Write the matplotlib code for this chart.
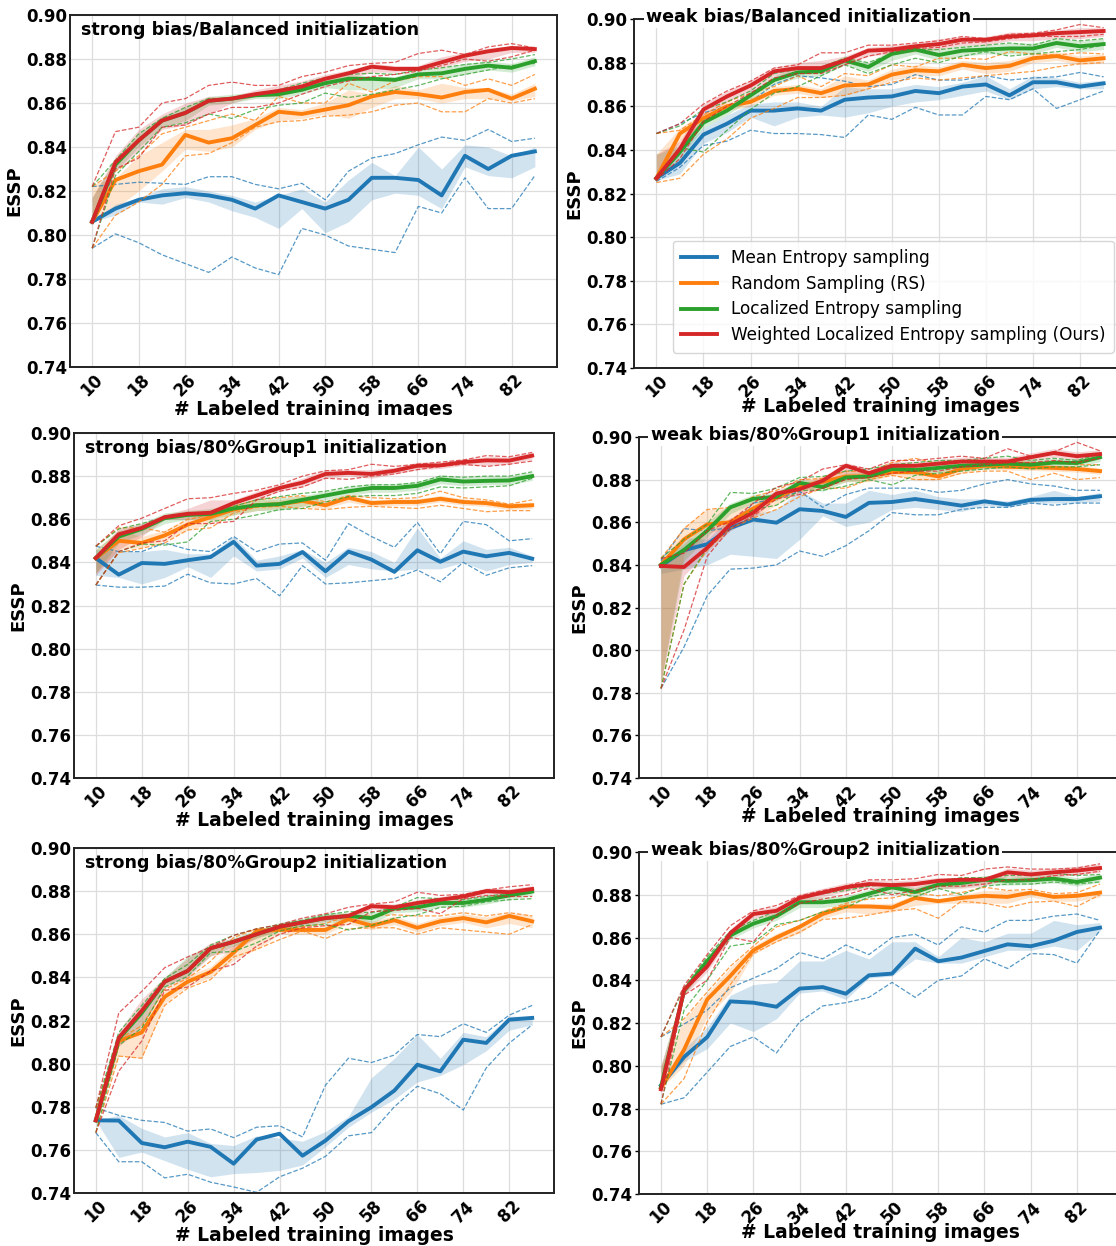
import matplotlib
matplotlib.use("Agg")
import matplotlib.pyplot as plt
from matplotlib.transforms import Bbox, TransformedBbox

plt.rcParams['font.family'] = ['DejaVu Sans']
plt.rcParams['font.weight'] = 'bold'

# x axis: number of labeled training images
n_images = [10, 14, 18, 22, 26, 30, 34, 38, 42, 46, 50, 54, 58, 62, 66, 70, 74, 78, 82, 86]
xticks = [10, 18, 26, 34, 42, 50, 58, 66, 74, 82]
yticks = [0.74, 0.76, 0.78, 0.80, 0.82, 0.84, 0.86, 0.88, 0.90]

methods = ["Mean Entropy sampling", "Random Sampling (RS)",
           "Localized Entropy sampling", "Weighted Localized Entropy sampling (Ours)"]
colors = ["#1f77b4", "#ff7f0e", "#2ca02c", "#d62728"]

# ---------- strong bias / Balanced ----------
tl_mean = [
    [0.806, 0.812, 0.816, 0.818, 0.819, 0.818, 0.816, 0.812, 0.818, 0.815, 0.812, 0.816, 0.826, 0.826, 0.825, 0.818, 0.836, 0.830, 0.836, 0.838],
    [0.806, 0.825, 0.829, 0.832, 0.8455, 0.842, 0.844, 0.850, 0.856, 0.855, 0.857, 0.859, 0.863, 0.865, 0.864, 0.8625, 0.865, 0.866, 0.862, 0.8665],
    [0.806, 0.832, 0.843, 0.852, 0.8555, 0.861, 0.862, 0.8635, 0.864, 0.866, 0.869, 0.871, 0.871, 0.8705, 0.873, 0.8735, 0.8755, 0.877, 0.876, 0.879],
    [0.806, 0.833, 0.843, 0.852, 0.8555, 0.861, 0.862, 0.864, 0.8655, 0.8675, 0.871, 0.8735, 0.8765, 0.8755, 0.8755, 0.8785, 0.8815, 0.8835, 0.885, 0.8845],
]
tl_lo = [
    [0.806, 0.809, 0.815, 0.814, 0.817, 0.815, 0.811, 0.808, 0.803, 0.812, 0.801, 0.806, 0.816, 0.819, 0.818, 0.812, 0.831, 0.827, 0.826, 0.831],
    [0.806, 0.812, 0.820, 0.829, 0.839, 0.838, 0.840, 0.848, 0.852, 0.853, 0.855, 0.853, 0.858, 0.862, 0.862, 0.860, 0.862, 0.862, 0.861, 0.863],
    [0.806, 0.829, 0.840, 0.849, 0.852, 0.859, 0.860, 0.862, 0.862, 0.864, 0.867, 0.866, 0.866, 0.867, 0.871, 0.871, 0.873, 0.875, 0.874, 0.877],
    [0.806, 0.829, 0.838, 0.848, 0.850, 0.855, 0.860, 0.863, 0.863, 0.866, 0.869, 0.871, 0.874, 0.874, 0.875, 0.876, 0.879, 0.880, 0.883, 0.883],
]
tl_hi = [
    [0.806, 0.814, 0.817, 0.821, 0.822, 0.820, 0.818, 0.815, 0.818, 0.821, 0.815, 0.825, 0.833, 0.827, 0.840, 0.830, 0.841, 0.840, 0.836, 0.840],
    [0.823, 0.826, 0.836, 0.842, 0.848, 0.848, 0.850, 0.853, 0.858, 0.857, 0.860, 0.866, 0.864, 0.868, 0.866, 0.869, 0.867, 0.867, 0.864, 0.869],
    [0.817, 0.835, 0.846, 0.854, 0.858, 0.863, 0.864, 0.865, 0.866, 0.868, 0.871, 0.873, 0.872, 0.872, 0.875, 0.876, 0.878, 0.879, 0.878, 0.881],
    [0.817, 0.836, 0.848, 0.855, 0.860, 0.863, 0.863, 0.866, 0.868, 0.870, 0.873, 0.875, 0.878, 0.877, 0.877, 0.881, 0.883, 0.885, 0.886, 0.886],
]
tl_dlo = [
    [0.794, 0.8005, 0.7965, 0.791, 0.787, 0.783, 0.790, 0.785, 0.782, 0.803, 0.800, 0.795, 0.7935, 0.792, 0.813, 0.810, 0.826, 0.812, 0.812, 0.827],
    [0.794, 0.809, 0.815, 0.823, 0.836, 0.837, 0.842, 0.849, 0.8515, 0.852, 0.854, 0.8545, 0.856, 0.859, 0.860, 0.856, 0.856, 0.862, 0.860, 0.862],
    [0.794, 0.827, 0.838, 0.849, 0.851, 0.855, 0.853, 0.857, 0.859, 0.860, 0.8645, 0.8625, 0.864, 0.866, 0.868, 0.871, 0.873, 0.875, 0.877, 0.878],
    [0.794, 0.830, 0.835, 0.849, 0.850, 0.855, 0.858, 0.858, 0.860, 0.864, 0.8675, 0.870, 0.872, 0.873, 0.8745, 0.877, 0.880, 0.879, 0.881, 0.884],
]
tl_dhi = [
    [0.822, 0.823, 0.824, 0.8235, 0.823, 0.8265, 0.8265, 0.823, 0.821, 0.8235, 0.816, 0.829, 0.835, 0.837, 0.841, 0.8445, 0.843, 0.848, 0.8425, 0.844],
    [0.822, 0.829, 0.836, 0.846, 0.849, 0.852, 0.855, 0.852, 0.863, 0.860, 0.860, 0.869, 0.865, 0.870, 0.872, 0.872, 0.868, 0.871, 0.868, 0.873],
    [0.822, 0.834, 0.846, 0.853, 0.858, 0.862, 0.862, 0.864, 0.866, 0.869, 0.8715, 0.873, 0.8735, 0.873, 0.875, 0.876, 0.8775, 0.8785, 0.880, 0.882],
    [0.822, 0.847, 0.849, 0.860, 0.862, 0.868, 0.8695, 0.868, 0.868, 0.872, 0.874, 0.877, 0.878, 0.8785, 0.8825, 0.884, 0.882, 0.8855, 0.887, 0.885],
]

# ---------- weak bias / Balanced ----------
tr_mean = [
    [0.827, 0.834, 0.847, 0.852, 0.858, 0.858, 0.859, 0.858, 0.863, 0.864, 0.8645, 0.867, 0.866, 0.869, 0.870, 0.865, 0.871, 0.871, 0.869, 0.8705],
    [0.827, 0.8475, 0.8545, 0.860, 0.862, 0.867, 0.868, 0.866, 0.8695, 0.870, 0.8745, 0.8765, 0.876, 0.879, 0.8775, 0.8785, 0.882, 0.883, 0.881, 0.882],
    [0.827, 0.839, 0.8525, 0.858, 0.865, 0.872, 0.8755, 0.876, 0.881, 0.878, 0.884, 0.886, 0.8835, 0.8855, 0.886, 0.8865, 0.8865, 0.889, 0.8875, 0.8885],
    [0.827, 0.8405, 0.8585, 0.8645, 0.8695, 0.876, 0.8775, 0.8775, 0.881, 0.8855, 0.886, 0.8875, 0.8885, 0.8905, 0.8905, 0.892, 0.8925, 0.8935, 0.894, 0.8945],
]
tr_lo = [
    [0.826, 0.829, 0.843, 0.848, 0.855, 0.851, 0.855, 0.856, 0.855, 0.857, 0.860, 0.862, 0.863, 0.865, 0.867, 0.863, 0.868, 0.869, 0.868, 0.868],
    [0.826, 0.844, 0.852, 0.858, 0.860, 0.865, 0.866, 0.864, 0.865, 0.868, 0.872, 0.874, 0.874, 0.877, 0.875, 0.876, 0.880, 0.881, 0.879, 0.880],
    [0.826, 0.836, 0.850, 0.856, 0.863, 0.870, 0.873, 0.874, 0.879, 0.876, 0.881, 0.884, 0.881, 0.883, 0.884, 0.884, 0.884, 0.887, 0.885, 0.886],
    [0.827, 0.838, 0.856, 0.862, 0.867, 0.874, 0.875, 0.876, 0.879, 0.883, 0.884, 0.885, 0.886, 0.888, 0.888, 0.890, 0.890, 0.891, 0.891, 0.892],
]
tr_hi = [
    [0.828, 0.840, 0.850, 0.856, 0.861, 0.862, 0.862, 0.860, 0.869, 0.868, 0.868, 0.870, 0.869, 0.871, 0.874, 0.868, 0.874, 0.873, 0.871, 0.872],
    [0.838, 0.850, 0.857, 0.862, 0.864, 0.869, 0.870, 0.868, 0.874, 0.872, 0.877, 0.879, 0.878, 0.881, 0.880, 0.881, 0.884, 0.885, 0.883, 0.884],
    [0.838, 0.842, 0.855, 0.860, 0.867, 0.874, 0.878, 0.878, 0.883, 0.880, 0.886, 0.888, 0.886, 0.888, 0.888, 0.889, 0.889, 0.891, 0.890, 0.891],
    [0.838, 0.844, 0.861, 0.867, 0.872, 0.878, 0.880, 0.881, 0.883, 0.887, 0.888, 0.889, 0.891, 0.892, 0.892, 0.894, 0.894, 0.895, 0.896, 0.896],
]
tr_dlo = [
    [0.8255, 0.832, 0.842, 0.844, 0.849, 0.8475, 0.8475, 0.847, 0.8457, 0.856, 0.854, 0.8595, 0.856, 0.856, 0.8645, 0.863, 0.868, 0.859, 0.863, 0.867],
    [0.825, 0.827, 0.838, 0.845, 0.8545, 0.859, 0.864, 0.864, 0.865, 0.868, 0.871, 0.873, 0.872, 0.873, 0.874, 0.875, 0.876, 0.878, 0.8795, 0.880],
    [0.826, 0.841, 0.839, 0.849, 0.8585, 0.866, 0.869, 0.874, 0.879, 0.875, 0.879, 0.882, 0.880, 0.883, 0.885, 0.883, 0.884, 0.885, 0.886, 0.888],
    [0.826, 0.836, 0.853, 0.860, 0.866, 0.873, 0.875, 0.875, 0.879, 0.883, 0.885, 0.8865, 0.887, 0.889, 0.8895, 0.891, 0.892, 0.892, 0.892, 0.893],
]
tr_dhi = [
    [0.8475, 0.852, 0.857, 0.860, 0.862, 0.870, 0.874, 0.873, 0.8715, 0.869, 0.870, 0.8745, 0.872, 0.872, 0.874, 0.872, 0.873, 0.8735, 0.8755, 0.8735],
    [0.8475, 0.849, 0.856, 0.862, 0.866, 0.869, 0.874, 0.869, 0.875, 0.874, 0.879, 0.878, 0.882, 0.882, 0.8815, 0.885, 0.884, 0.8835, 0.8845, 0.884],
    [0.8475, 0.851, 0.8585, 0.862, 0.867, 0.875, 0.877, 0.878, 0.882, 0.880, 0.884, 0.886, 0.886, 0.887, 0.888, 0.889, 0.888, 0.891, 0.890, 0.891],
    [0.8475, 0.852, 0.861, 0.867, 0.8715, 0.8775, 0.879, 0.8845, 0.8845, 0.888, 0.888, 0.889, 0.890, 0.892, 0.891, 0.893, 0.8935, 0.895, 0.8975, 0.896],
]

# ---------- strong bias / 80%Group1 ----------
ml_mean = [
    [0.842, 0.8343, 0.8397, 0.8393, 0.841, 0.8425, 0.8495, 0.8385, 0.8393, 0.8448, 0.8359, 0.845, 0.8413, 0.8356, 0.8456, 0.8403, 0.845, 0.8428, 0.8444, 0.8417],
    [0.842, 0.850, 0.849, 0.8525, 0.8575, 0.861, 0.8645, 0.8665, 0.867, 0.8685, 0.8665, 0.870, 0.8675, 0.868, 0.868, 0.8695, 0.868, 0.8675, 0.866, 0.8665],
    [0.842, 0.852, 0.8555, 0.8605, 0.862, 0.8625, 0.865, 0.8665, 0.867, 0.869, 0.871, 0.873, 0.8745, 0.8745, 0.8755, 0.8785, 0.8775, 0.8778, 0.878, 0.880],
    [0.842, 0.853, 0.856, 0.861, 0.8625, 0.863, 0.8675, 0.871, 0.8745, 0.877, 0.881, 0.8815, 0.881, 0.8825, 0.8848, 0.885, 0.8865, 0.8873, 0.8872, 0.8895],
]
ml_lo = [
    [0.834, 0.833, 0.830, 0.833, 0.838, 0.833, 0.843, 0.836, 0.837, 0.842, 0.833, 0.839, 0.837, 0.836, 0.837, 0.837, 0.840, 0.836, 0.839, 0.840],
    [0.835, 0.846, 0.847, 0.850, 0.855, 0.858, 0.862, 0.864, 0.865, 0.866, 0.865, 0.868, 0.866, 0.8665, 0.8665, 0.868, 0.8665, 0.866, 0.8645, 0.865],
    [0.835, 0.849, 0.853, 0.858, 0.860, 0.860, 0.862, 0.864, 0.864, 0.866, 0.869, 0.871, 0.8725, 0.8725, 0.8735, 0.8765, 0.8755, 0.876, 0.876, 0.878],
    [0.834, 0.846, 0.852, 0.860, 0.860, 0.861, 0.866, 0.869, 0.873, 0.875, 0.879, 0.880, 0.879, 0.881, 0.883, 0.8835, 0.885, 0.885, 0.8855, 0.888],
]
ml_hi = [
    [0.846, 0.845, 0.845, 0.846, 0.844, 0.844, 0.852, 0.841, 0.843, 0.846, 0.840, 0.847, 0.845, 0.840, 0.856, 0.842, 0.850, 0.846, 0.847, 0.843],
    [0.846, 0.855, 0.852, 0.855, 0.860, 0.863, 0.866, 0.869, 0.869, 0.871, 0.868, 0.871, 0.869, 0.8695, 0.8695, 0.871, 0.8695, 0.869, 0.8675, 0.868],
    [0.846, 0.855, 0.858, 0.863, 0.864, 0.865, 0.867, 0.869, 0.870, 0.871, 0.873, 0.875, 0.8765, 0.8765, 0.8775, 0.8805, 0.8795, 0.880, 0.880, 0.882],
    [0.843, 0.856, 0.858, 0.862, 0.865, 0.869, 0.869, 0.873, 0.876, 0.879, 0.883, 0.883, 0.883, 0.884, 0.8865, 0.8865, 0.888, 0.889, 0.889, 0.891],
]
ml_dlo = [
    [0.8295, 0.8285, 0.8285, 0.829, 0.8345, 0.8305, 0.830, 0.8325, 0.8245, 0.8385, 0.830, 0.8305, 0.8315, 0.8325, 0.8365, 0.831, 0.840, 0.834, 0.8375, 0.8385],
    [0.8295, 0.8445, 0.8465, 0.849, 0.855, 0.856, 0.863, 0.8655, 0.866, 0.865, 0.8645, 0.8655, 0.866, 0.8655, 0.865, 0.8665, 0.865, 0.8635, 0.864, 0.864],
    [0.8295, 0.845, 0.8485, 0.848, 0.8495, 0.859, 0.860, 0.862, 0.8645, 0.865, 0.868, 0.8705, 0.871, 0.871, 0.872, 0.875, 0.8745, 0.875, 0.8755, 0.879],
    [0.8295, 0.845, 0.849, 0.850, 0.858, 0.858, 0.859, 0.869, 0.873, 0.875, 0.879, 0.8785, 0.880, 0.881, 0.883, 0.8845, 0.8855, 0.8845, 0.8855, 0.887],
]
ml_dhi = [
    [0.8475, 0.845, 0.845, 0.849, 0.846, 0.845, 0.852, 0.845, 0.8485, 0.849, 0.841, 0.858, 0.852, 0.847, 0.8585, 0.844, 0.859, 0.8575, 0.850, 0.851],
    [0.8475, 0.856, 0.856, 0.854, 0.860, 0.862, 0.866, 0.869, 0.870, 0.871, 0.868, 0.871, 0.870, 0.8695, 0.870, 0.873, 0.870, 0.869, 0.867, 0.869],
    [0.8475, 0.8555, 0.858, 0.861, 0.8625, 0.8635, 0.866, 0.869, 0.8705, 0.872, 0.873, 0.875, 0.876, 0.876, 0.877, 0.880, 0.8795, 0.880, 0.880, 0.882],
    [0.8475, 0.857, 0.8605, 0.865, 0.8695, 0.870, 0.872, 0.8735, 0.876, 0.880, 0.8825, 0.883, 0.8855, 0.8845, 0.8855, 0.8865, 0.8875, 0.8895, 0.889, 0.891],
]

# ---------- weak bias / 80%Group1 ----------
mr_mean = [
    [0.8395, 0.8469, 0.8497, 0.8573, 0.8613, 0.8598, 0.8661, 0.8653, 0.8625, 0.8691, 0.8695, 0.8709, 0.8694, 0.8678, 0.8698, 0.8683, 0.8705, 0.8709, 0.8709, 0.8722],
    [0.840, 0.852, 0.859, 0.860, 0.8665, 0.8715, 0.8765, 0.879, 0.8815, 0.8815, 0.8835, 0.8835, 0.8815, 0.885, 0.8865, 0.886, 0.8858, 0.8855, 0.885, 0.884],
    [0.840, 0.847, 0.856, 0.867, 0.871, 0.872, 0.8785, 0.8765, 0.881, 0.8815, 0.885, 0.8845, 0.8855, 0.8865, 0.887, 0.8875, 0.887, 0.888, 0.8878, 0.8905],
    [0.8395, 0.839, 0.848, 0.859, 0.8645, 0.8735, 0.8755, 0.8795, 0.8865, 0.883, 0.8865, 0.8865, 0.8875, 0.8885, 0.8885, 0.8885, 0.8905, 0.8925, 0.891, 0.892],
]
mr_lo = [
    [0.836, 0.838, 0.840, 0.845, 0.844, 0.843, 0.852, 0.863, 0.858, 0.860, 0.866, 0.867, 0.866, 0.865, 0.868, 0.867, 0.869, 0.869, 0.869, 0.870],
    [0.785, 0.845, 0.855, 0.857, 0.862, 0.868, 0.874, 0.876, 0.879, 0.879, 0.882, 0.880, 0.880, 0.883, 0.885, 0.8845, 0.8843, 0.884, 0.8835, 0.8825],
    [0.785, 0.842, 0.853, 0.864, 0.869, 0.870, 0.8765, 0.8745, 0.879, 0.8795, 0.883, 0.8825, 0.8835, 0.8845, 0.885, 0.8855, 0.885, 0.886, 0.8858, 0.8885],
    [0.785, 0.835, 0.846, 0.856, 0.862, 0.8715, 0.8735, 0.8775, 0.883, 0.881, 0.8845, 0.8845, 0.8855, 0.8865, 0.8865, 0.8865, 0.8885, 0.8905, 0.889, 0.890],
]
mr_hi = [
    [0.841, 0.853, 0.852, 0.862, 0.864, 0.866, 0.875, 0.869, 0.869, 0.875, 0.873, 0.875, 0.872, 0.871, 0.871, 0.870, 0.872, 0.875, 0.872, 0.874],
    [0.843, 0.858, 0.866, 0.867, 0.870, 0.874, 0.879, 0.882, 0.884, 0.884, 0.886, 0.887, 0.884, 0.887, 0.888, 0.8875, 0.8873, 0.887, 0.8865, 0.8855],
    [0.843, 0.850, 0.860, 0.869, 0.873, 0.874, 0.8805, 0.8785, 0.883, 0.8835, 0.887, 0.8865, 0.8875, 0.8885, 0.889, 0.8895, 0.889, 0.890, 0.8898, 0.8925],
    [0.843, 0.846, 0.855, 0.862, 0.868, 0.8755, 0.8775, 0.8815, 0.888, 0.885, 0.8885, 0.8885, 0.8895, 0.8905, 0.8905, 0.8905, 0.8925, 0.8945, 0.893, 0.894],
]
mr_dlo = [
    [0.782, 0.8015, 0.8255, 0.838, 0.8385, 0.840, 0.8465, 0.844, 0.849, 0.856, 0.8645, 0.8635, 0.8635, 0.866, 0.867, 0.867, 0.869, 0.868, 0.869, 0.869],
    [0.782, 0.831, 0.847, 0.857, 0.862, 0.866, 0.872, 0.876, 0.876, 0.880, 0.882, 0.880, 0.880, 0.883, 0.884, 0.884, 0.880, 0.883, 0.880, 0.881],
    [0.782, 0.831, 0.848, 0.859, 0.866, 0.868, 0.875, 0.875, 0.877, 0.880, 0.8775, 0.882, 0.883, 0.884, 0.885, 0.886, 0.885, 0.886, 0.886, 0.887],
    [0.782, 0.8095, 0.844, 0.857, 0.863, 0.871, 0.873, 0.876, 0.880, 0.881, 0.883, 0.884, 0.884, 0.886, 0.887, 0.888, 0.888, 0.889, 0.888, 0.890],
]
mr_dhi = [
    [0.842, 0.857, 0.856, 0.8575, 0.869, 0.871, 0.8745, 0.867, 0.873, 0.876, 0.876, 0.876, 0.874, 0.875, 0.878, 0.880, 0.878, 0.877, 0.875, 0.875],
    [0.843, 0.857, 0.866, 0.867, 0.872, 0.875, 0.880, 0.8805, 0.884, 0.8835, 0.888, 0.890, 0.8875, 0.888, 0.888, 0.8885, 0.888, 0.888, 0.887, 0.887],
    [0.843, 0.852, 0.859, 0.874, 0.8735, 0.876, 0.881, 0.8815, 0.884, 0.885, 0.887, 0.888, 0.889, 0.889, 0.890, 0.891, 0.889, 0.890, 0.889, 0.892],
    [0.843, 0.8455, 0.856, 0.8605, 0.869, 0.8765, 0.879, 0.885, 0.887, 0.885, 0.889, 0.889, 0.890, 0.891, 0.890, 0.8945, 0.891, 0.893, 0.8975, 0.8935],
]

# ---------- strong bias / 80%Group2 ----------
bl_mean = [
    [0.7737, 0.7736, 0.7632, 0.7612, 0.7638, 0.7614, 0.7536, 0.7648, 0.7675, 0.7573, 0.7643, 0.7733, 0.7798, 0.7875, 0.7995, 0.7964, 0.8111, 0.8096, 0.8204, 0.8212],
    [0.7737, 0.8105, 0.8145, 0.831, 0.838, 0.8425, 0.8515, 0.8615, 0.862, 0.862, 0.862, 0.867, 0.864, 0.8665, 0.863, 0.866, 0.8675, 0.8655, 0.8685, 0.866],
    [0.7737, 0.8115, 0.8235, 0.838, 0.843, 0.8535, 0.8565, 0.860, 0.8635, 0.8655, 0.8675, 0.8685, 0.8675, 0.872, 0.8725, 0.8745, 0.8745, 0.876, 0.878, 0.8798],
    [0.7737, 0.812, 0.8245, 0.838, 0.843, 0.8535, 0.8565, 0.860, 0.8635, 0.8655, 0.8675, 0.8685, 0.873, 0.8725, 0.8745, 0.876, 0.8775, 0.880, 0.8795, 0.881],
]
bl_lo = [
    [0.7737, 0.7565, 0.759, 0.755, 0.751, 0.7475, 0.749, 0.7495, 0.7505, 0.753, 0.7615, 0.7705, 0.7775, 0.7835, 0.7915, 0.7945, 0.7995, 0.806, 0.8155, 0.818],
    [0.7737, 0.8035, 0.8025, 0.828, 0.836, 0.840, 0.848, 0.853, 0.860, 0.860, 0.860, 0.865, 0.862, 0.8645, 0.861, 0.864, 0.8655, 0.863, 0.865, 0.863],
    [0.7737, 0.810, 0.818, 0.836, 0.841, 0.850, 0.8545, 0.858, 0.8615, 0.8635, 0.865, 0.866, 0.865, 0.870, 0.8705, 0.8725, 0.8725, 0.874, 0.876, 0.878],
    [0.7737, 0.808, 0.817, 0.835, 0.840, 0.850, 0.852, 0.8585, 0.862, 0.864, 0.866, 0.867, 0.8715, 0.871, 0.873, 0.8745, 0.876, 0.8785, 0.878, 0.8795],
]
bl_hi = [
    [0.7737, 0.776, 0.770, 0.766, 0.768, 0.763, 0.762, 0.7665, 0.7655, 0.764, 0.7685, 0.7755, 0.7935, 0.8025, 0.8135, 0.8025, 0.8145, 0.8125, 0.822, 0.822],
    [0.780, 0.8115, 0.8175, 0.834, 0.841, 0.845, 0.855, 0.862, 0.864, 0.864, 0.864, 0.869, 0.866, 0.8685, 0.865, 0.868, 0.8695, 0.868, 0.870, 0.869],
    [0.780, 0.8135, 0.827, 0.840, 0.850, 0.855, 0.8585, 0.862, 0.8655, 0.8675, 0.870, 0.870, 0.870, 0.874, 0.8745, 0.8765, 0.8765, 0.878, 0.880, 0.8815],
    [0.780, 0.815, 0.830, 0.840, 0.849, 0.856, 0.858, 0.8615, 0.865, 0.867, 0.869, 0.870, 0.8745, 0.874, 0.876, 0.8775, 0.879, 0.8815, 0.881, 0.8825],
]
bl_dlo = [
    [0.768, 0.7545, 0.7545, 0.747, 0.7487, 0.745, 0.7428, 0.7403, 0.7475, 0.7515, 0.757, 0.7665, 0.768, 0.780, 0.7895, 0.786, 0.7785, 0.798, 0.8095, 0.818],
    [0.768, 0.8035, 0.8025, 0.827, 0.835, 0.839, 0.8495, 0.853, 0.8575, 0.8615, 0.858, 0.8625, 0.863, 0.863, 0.860, 0.863, 0.862, 0.861, 0.860, 0.8645],
    [0.768, 0.8085, 0.8165, 0.8355, 0.8405, 0.8515, 0.852, 0.856, 0.8615, 0.864, 0.8645, 0.862, 0.864, 0.8675, 0.869, 0.8725, 0.873, 0.875, 0.876, 0.8765],
    [0.768, 0.7965, 0.8105, 0.834, 0.8355, 0.843, 0.846, 0.8545, 0.860, 0.863, 0.864, 0.8645, 0.8705, 0.871, 0.872, 0.8695, 0.8765, 0.878, 0.8775, 0.8775],
]
bl_dhi = [
    [0.7795, 0.776, 0.7737, 0.7727, 0.7687, 0.7697, 0.7657, 0.7705, 0.7712, 0.766, 0.790, 0.8025, 0.8005, 0.804, 0.8135, 0.8125, 0.8185, 0.8145, 0.8225, 0.827],
    [0.7795, 0.8115, 0.8175, 0.8345, 0.8395, 0.8475, 0.8585, 0.8625, 0.8625, 0.8635, 0.865, 0.8685, 0.8685, 0.869, 0.8685, 0.8685, 0.870, 0.8685, 0.870, 0.8685],
    [0.7795, 0.8145, 0.827, 0.8395, 0.846, 0.855, 0.8595, 0.8625, 0.8645, 0.8665, 0.869, 0.8705, 0.870, 0.8725, 0.877, 0.8765, 0.876, 0.8775, 0.879, 0.881],
    [0.7795, 0.8235, 0.8335, 0.8445, 0.8495, 0.854, 0.8595, 0.8625, 0.8645, 0.8675, 0.8695, 0.8725, 0.874, 0.875, 0.8795, 0.878, 0.8785, 0.8805, 0.882, 0.883],
]

# ---------- weak bias / 80%Group2 ----------
br_mean = [
    [0.7908, 0.8041, 0.8134, 0.8301, 0.8295, 0.8276, 0.8361, 0.8368, 0.8337, 0.8423, 0.8431, 0.8548, 0.8489, 0.8506, 0.8537, 0.8568, 0.8559, 0.8585, 0.8626, 0.8646],
    [0.7895, 0.8075, 0.831, 0.842, 0.854, 0.860, 0.865, 0.871, 0.8745, 0.8745, 0.874, 0.8785, 0.877, 0.8785, 0.8795, 0.879, 0.881, 0.879, 0.8795, 0.881],
    [0.790, 0.835, 0.849, 0.861, 0.8665, 0.870, 0.8765, 0.8765, 0.8775, 0.8805, 0.8835, 0.8813, 0.8847, 0.8855, 0.887, 0.8865, 0.8868, 0.8875, 0.886, 0.888],
    [0.789, 0.8355, 0.8465, 0.862, 0.871, 0.8725, 0.8785, 0.881, 0.8835, 0.885, 0.8845, 0.885, 0.8865, 0.887, 0.887, 0.8905, 0.8895, 0.8905, 0.8913, 0.8925],
]
br_lo = [
    [0.790, 0.802, 0.808, 0.820, 0.816, 0.822, 0.834, 0.835, 0.831, 0.841, 0.842, 0.850, 0.848, 0.848, 0.851, 0.854, 0.854, 0.856, 0.854, 0.863],
    [0.7895, 0.800, 0.823, 0.834, 0.852, 0.858, 0.862, 0.869, 0.872, 0.871, 0.872, 0.875, 0.876, 0.876, 0.876, 0.876, 0.879, 0.877, 0.877, 0.879],
    [0.790, 0.833, 0.847, 0.859, 0.8645, 0.868, 0.874, 0.874, 0.8755, 0.8785, 0.8815, 0.8793, 0.8827, 0.8835, 0.885, 0.8845, 0.8848, 0.8855, 0.884, 0.886],
    [0.789, 0.833, 0.844, 0.860, 0.869, 0.8705, 0.8765, 0.879, 0.8815, 0.883, 0.8825, 0.883, 0.883, 0.883, 0.884, 0.8885, 0.8875, 0.8885, 0.8893, 0.8905],
]
br_hi = [
    [0.792, 0.808, 0.818, 0.833, 0.838, 0.839, 0.849, 0.849, 0.854, 0.850, 0.858, 0.858, 0.851, 0.860, 0.858, 0.862, 0.862, 0.868, 0.866, 0.867],
    [0.800, 0.822, 0.834, 0.846, 0.856, 0.862, 0.866, 0.873, 0.876, 0.876, 0.876, 0.880, 0.878, 0.880, 0.882, 0.882, 0.882, 0.880, 0.881, 0.882],
    [0.800, 0.837, 0.851, 0.863, 0.8685, 0.872, 0.879, 0.879, 0.8795, 0.8825, 0.8855, 0.8833, 0.8867, 0.8875, 0.889, 0.8885, 0.8888, 0.8895, 0.888, 0.890],
    [0.800, 0.837, 0.850, 0.864, 0.873, 0.8745, 0.8805, 0.883, 0.8855, 0.887, 0.8865, 0.887, 0.888, 0.888, 0.888, 0.8925, 0.8915, 0.8925, 0.8933, 0.8945],
]
br_dlo = [
    [0.782, 0.785, 0.797, 0.809, 0.8135, 0.806, 0.8205, 0.828, 0.8295, 0.832, 0.839, 0.832, 0.840, 0.842, 0.850, 0.8455, 0.8525, 0.852, 0.848, 0.8635],
    [0.782, 0.794, 0.8205, 0.838, 0.8525, 0.858, 0.8625, 0.8685, 0.869, 0.8705, 0.8725, 0.8735, 0.869, 0.877, 0.876, 0.874, 0.8765, 0.877, 0.8745, 0.880],
    [0.782, 0.826, 0.840, 0.856, 0.8575, 0.866, 0.868, 0.872, 0.874, 0.879, 0.881, 0.879, 0.883, 0.880, 0.884, 0.885, 0.885, 0.886, 0.885, 0.886],
    [0.782, 0.833, 0.840, 0.860, 0.858, 0.8705, 0.876, 0.878, 0.880, 0.883, 0.880, 0.882, 0.884, 0.884, 0.885, 0.887, 0.887, 0.889, 0.8895, 0.891],
]
br_dhi = [
    [0.8135, 0.8195, 0.826, 0.8365, 0.841, 0.8455, 0.853, 0.850, 0.8565, 0.852, 0.860, 0.8615, 0.8565, 0.865, 0.8625, 0.868, 0.868, 0.870, 0.871, 0.868],
    [0.8135, 0.822, 0.8345, 0.8465, 0.856, 0.865, 0.868, 0.872, 0.876, 0.878, 0.8785, 0.881, 0.8795, 0.881, 0.8835, 0.882, 0.8825, 0.8805, 0.881, 0.885],
    [0.8135, 0.8365, 0.851, 0.863, 0.868, 0.8725, 0.879, 0.8805, 0.882, 0.884, 0.885, 0.885, 0.8865, 0.888, 0.888, 0.889, 0.889, 0.890, 0.889, 0.8895],
    [0.8135, 0.8375, 0.852, 0.8655, 0.8725, 0.875, 0.8795, 0.882, 0.884, 0.887, 0.887, 0.8875, 0.8895, 0.889, 0.892, 0.893, 0.892, 0.892, 0.8925, 0.8945],
]

W, H = 1116, 1246
fig = plt.figure(figsize=(W / 100, H / 100), dpi=100)


def px_box(left, top, right, bottom):
    return [left / W, 1 - bottom / H, (right - left) / W, (bottom - top) / H]


def draw_panel(box, title, mean, lo, hi, dlo, dhi, right_col, clip_xlabel=False):
    ax = fig.add_axes(px_box(*box))
    for i in range(4):
        c = colors[i]
        ax.fill_between(n_images, lo[i], hi[i], color=c, alpha=0.2, lw=0)
        ax.plot(n_images, dlo[i], '--', color=c, lw=0.9, alpha=0.75)
        ax.plot(n_images, dhi[i], '--', color=c, lw=0.9, alpha=0.75)
        ax.plot(n_images, mean[i], '-', color=c, lw=2.8, label=methods[i])
    ax.set_ylim(0.74, 0.90)
    ax.set_xticks(xticks)
    ax.set_yticks(yticks)
    ax.set_yticklabels(["%.2f" % v for v in yticks])
    ax.grid(True, color='#dddddd', lw=0.9)
    ax.set_axisbelow(True)
    for s in ax.spines.values():
        s.set_linewidth(1.4)
        s.set_color('#222222')
    ax.tick_params(axis='y', labelsize=12, length=3 if right_col else 0, width=1, pad=2)
    ax.tick_params(axis='x', labelsize=12, length=0, pad=3)
    plt.setp(ax.get_xticklabels(), rotation=45, ha='center')
    xl = ax.set_xlabel("# Labeled training images", fontsize=13.5, fontweight='bold',
                       labelpad=-3 if right_col else 0)
    ax.set_ylabel("ESSP", fontsize=13, fontweight='bold', labelpad=2)
    if clip_xlabel:
        # the top row labels are cut off by the next row of panels
        clip = TransformedBbox(Bbox([[0, 1 - 416 / H], [1, 1]]), fig.transFigure)
        xl.set_clip_box(clip)
        xl.set_clip_on(True)
    if right_col:
        ax.text(0.024, 1.006, title, transform=ax.transAxes, fontsize=12.6, fontweight='bold',
                va='center', ha='left', zorder=10,
                bbox=dict(facecolor='white', edgecolor='none', pad=1.5))
    else:
        ax.text(0.023, 0.957, title, transform=ax.transAxes, fontsize=12.6, fontweight='bold',
                va='center', ha='left')
    return ax


draw_panel((70, 15, 557, 367), "strong bias/Balanced initialization",
           tl_mean, tl_lo, tl_hi, tl_dlo, tl_dhi, False, clip_xlabel=True)
ax_tr = draw_panel((634, 19, 1126, 368), "weak bias/Balanced initialization",
                   tr_mean, tr_lo, tr_hi, tr_dlo, tr_dhi, True, clip_xlabel=True)
draw_panel((74, 433, 554, 778), "strong bias/80%Group1 initialization",
           ml_mean, ml_lo, ml_hi, ml_dlo, ml_dhi, False)
draw_panel((639, 437, 1122, 778), "weak bias/80%Group1 initialization",
           mr_mean, mr_lo, mr_hi, mr_dlo, mr_dhi, True)
draw_panel((74, 848, 554, 1193), "strong bias/80%Group2 initialization",
           bl_mean, bl_lo, bl_hi, bl_dlo, bl_dhi, False)
draw_panel((639, 852, 1122, 1194), "weak bias/80%Group2 initialization",
           br_mean, br_lo, br_hi, br_dlo, br_dhi, True)

leg = ax_tr.legend(loc='lower left', bbox_to_anchor=(0.062, 0.02),
                   prop={'weight': 'normal', 'size': 12.2}, labelspacing=0.45,
                   handlelength=2.1, borderpad=0.5, framealpha=0.8)
for line in leg.get_lines():
    line.set_linewidth(2.8)

fig.savefig("out.png", dpi=100)
